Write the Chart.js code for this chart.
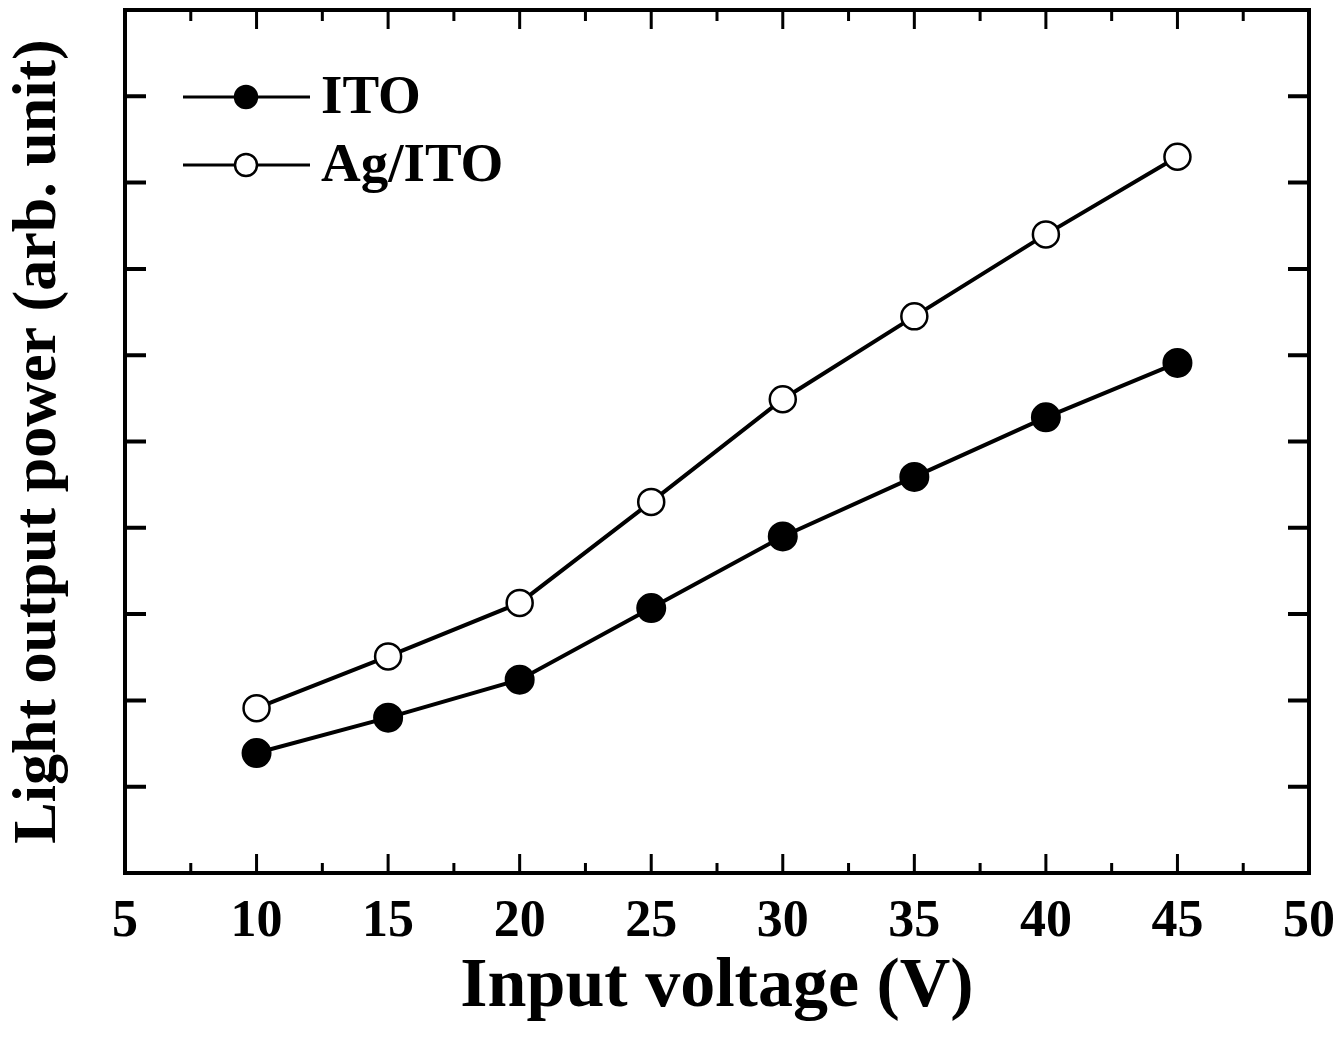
<!DOCTYPE html>
<html>
<head>
<meta charset="utf-8">
<script src="https://cdn.jsdelivr.net/npm/chart.js@4/dist/chart.umd.min.js"></script>
<style>
  html, body { margin: 0; padding: 0; background: #fff; }
  #wrap { width: 1341px; height: 1041px; }
</style>
</head>
<body>
<div id="wrap"><canvas id="lightChart" width="1341" height="1041"></canvas></div>
<script>
// Data
const voltages = [10, 15, 20, 25, 30, 35, 40, 45];
const itoPower = [1.39, 1.80, 2.24, 3.07, 3.90, 4.59, 5.28, 5.91];
const agItoPower = [1.91, 2.51, 3.13, 4.30, 5.49, 6.45, 7.40, 8.30];
const xTickValues = [5, 10, 15, 20, 25, 30, 35, 40, 45, 50];
const yTickValues = [1, 2, 3, 4, 5, 6, 7, 8, 9];

const serif = '"Liberation Serif", "Times New Roman", serif';

// Frame, inward tick marks and the line+marker legend
const framePlugin = {
    id: 'frame',
    beforeDraw(chart) {
        const c = chart.ctx;
        c.save();
        c.fillStyle = '#fff';
        c.fillRect(0, 0, chart.width, chart.height);
        c.restore();
    },
    afterDatasetsDraw(chart) {
        const c = chart.ctx;
        const a = chart.chartArea;
        const xs = chart.scales.x, ys = chart.scales.y;
        c.save();
        c.strokeStyle = '#000';
        c.lineCap = 'butt';

        // x ticks (major every 5, minor in between), bottom and top
        c.lineWidth = 3;
        xTickValues.forEach((v, i) => {
            const px = xs.getPixelForValue(v);
            c.beginPath();
            c.moveTo(px, a.bottom); c.lineTo(px, a.bottom - 19);
            c.moveTo(px, a.top); c.lineTo(px, a.top + 19);
            c.stroke();
            if (i < xTickValues.length - 1) {
                const mx = xs.getPixelForValue((v + xTickValues[i + 1]) / 2);
                c.beginPath();
                c.moveTo(mx, a.bottom); c.lineTo(mx, a.bottom - 10);
                c.moveTo(mx, a.top); c.lineTo(mx, a.top + 11);
                c.stroke();
            }
        });
        // y ticks, left and right
        c.lineWidth = 4;
        yTickValues.forEach(v => {
            const py = ys.getPixelForValue(v);
            c.beginPath();
            c.moveTo(a.left, py); c.lineTo(a.left + 21, py);
            c.moveTo(a.right, py); c.lineTo(a.right - 21, py);
            c.stroke();
        });

        // frame
        c.lineWidth = 4;
        c.strokeRect(a.left, a.top, a.right - a.left, a.bottom - a.top);

        // legend
        const rows = [97, 165];
        chart.data.datasets.forEach((ds, i) => {
            const y = rows[i];
            c.lineWidth = 3;
            c.beginPath();
            c.moveTo(183, y); c.lineTo(310, y);
            c.stroke();
            c.beginPath();
            c.arc(246, y, 11, 0, Math.PI * 2);
            c.fillStyle = ds.pointBackgroundColor;
            c.fill();
            c.lineWidth = 2.5;
            c.stroke();
            c.fillStyle = '#000';
            c.font = 'bold 55px ' + serif;
            c.textBaseline = 'middle';
            c.textAlign = 'left';
            c.fillText(ds.label, 321, y + 2);
        });
        c.restore();
    }
};

const ctx = document.getElementById('lightChart').getContext('2d');
const lightChart = new Chart(ctx, {
    type: 'line',
    data: {
        datasets: [{
            label: 'ITO',
            data: voltages.map((v, i) => ({ x: v, y: itoPower[i] })),
            borderColor: '#000',
            borderWidth: 4,
            pointBackgroundColor: '#000',
            pointBorderColor: '#000',
            pointBorderWidth: 2,
            pointRadius: 14,
            tension: 0
        }, {
            label: 'Ag/ITO',
            data: voltages.map((v, i) => ({ x: v, y: agItoPower[i] })),
            borderColor: '#000',
            borderWidth: 4,
            pointBackgroundColor: '#fff',
            pointBorderColor: '#000',
            pointBorderWidth: 2.5,
            pointRadius: 13,
            tension: 0
        }]
    },
    options: {
        responsive: false,
        animation: false,
        layout: { autoPadding: false, padding: { top: 10, right: 32, left: 0, bottom: 0 } },
        plugins: {
            legend: { display: false },
            tooltip: { enabled: false }
        },
        scales: {
            x: {
                type: 'linear',
                min: 5,
                max: 50,
                afterBuildTicks: scale => { scale.ticks = xTickValues.map(v => ({ value: v })); },
                afterFit: scale => { scale.height = 168; },
                // grid hidden; tickLength only sets the gap above the labels
                grid: { display: false, drawTicks: true, tickLength: 18 },
                border: { display: false },
                ticks: {
                    color: '#000',
                    padding: 0,
                    maxRotation: 0,
                    font: { family: serif, size: 52, weight: 'bold' }
                },
                title: {
                    display: true,
                    text: 'Input voltage (V)',
                    color: '#000',
                    padding: { top: 0, bottom: 11 },
                    font: { family: serif, size: 70, weight: 'bold' }
                }
            },
            y: {
                type: 'linear',
                min: 0,
                max: 10,
                afterFit: scale => { scale.width = 125; },
                grid: { display: false, drawTicks: false },
                border: { display: false },
                ticks: { display: false },
                title: {
                    display: true,
                    text: 'Light output power (arb. unit)',
                    color: '#000',
                    padding: { top: 2, bottom: 0 },
                    font: { family: serif, size: 62, weight: 'bold' }
                }
            }
        }
    },
    plugins: [framePlugin]
});
</script>
</body>
</html>
